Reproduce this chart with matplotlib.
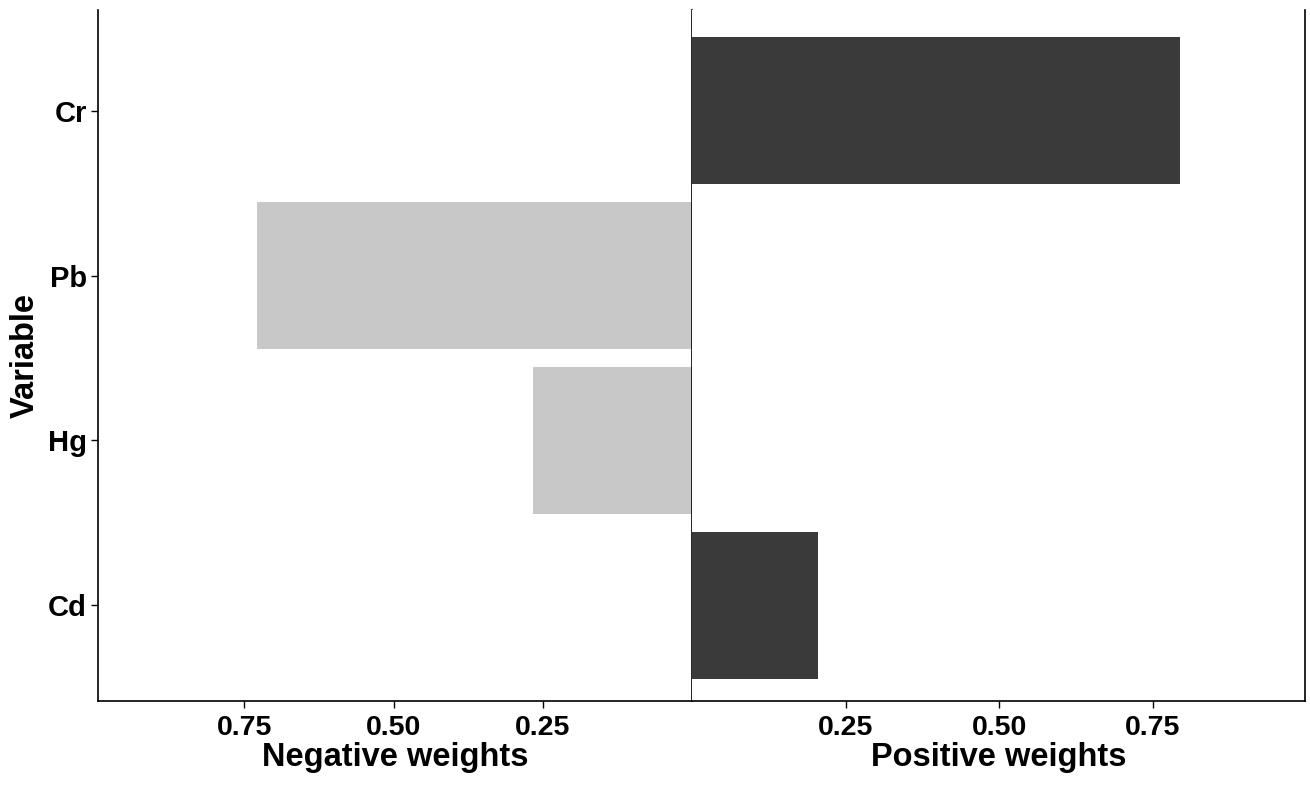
import matplotlib
matplotlib.use("Agg")
import matplotlib.pyplot as plt

plt.rcParams['font.family'] = ['Liberation Sans', 'DejaVu Sans']
plt.rcParams['font.weight'] = 'bold'

variables = ['Cd', 'Hg', 'Pb', 'Cr']
neg_weights = [0.0, 0.267, 0.728, 0.0]
pos_weights = [0.205, 0.0, 0.0, 0.795]
ticks = [0.25, 0.50, 0.75]
tick_labels = ['0.25', '0.50', '0.75']

dark = '#3a3a3a'
light = '#c8c8c8'

fig = plt.figure(figsize=(13.1, 7.87), dpi=100)
ax_neg = fig.add_axes([98 / 1310, 1 - 701 / 787, (692 - 98) / 1310, 691 / 787])
ax_pos = fig.add_axes([692 / 1310, 1 - 701 / 787, (1305 - 692) / 1310, 691 / 787])

ypos = range(len(variables))
ax_neg.barh(ypos, neg_weights, height=0.89, color=light)
ax_pos.barh(ypos, pos_weights, height=0.89, color=dark)

# left panel runs from 1 down to 0, right panel from 0 up to 1
ax_neg.set_xlim(0.995, 0)
ax_pos.set_xlim(0, 0.998)
for ax in (ax_neg, ax_pos):
    ax.set_ylim(-0.58, 3.61)
    ax.spines['top'].set_visible(False)
    for s in ('left', 'right', 'bottom'):
        ax.spines[s].set_linewidth(1.2)
        ax.spines[s].set_color('black')
    ax.set_xticks(ticks)
    ax.set_xticklabels(tick_labels, fontsize=20.5, fontweight='bold')
    ax.tick_params(axis='x', length=5, width=1, pad=5, colors='black')

ax_neg.set_yticks(list(ypos))
ax_neg.set_yticklabels(variables, fontsize=21, fontweight='bold')
ax_neg.tick_params(axis='y', length=5, width=1, pad=3)
ax_neg.set_ylabel('Variable', fontsize=23.5, fontweight='bold', labelpad=5)
ax_pos.set_yticks([])
ax_pos.spines['left'].set_visible(False)

ax_neg.set_xlabel('Negative weights', fontsize=23.5, fontweight='bold', labelpad=1)
ax_pos.set_xlabel('Positive weights', fontsize=23.5, fontweight='bold', labelpad=1)

fig.savefig('out.png', dpi=100)
